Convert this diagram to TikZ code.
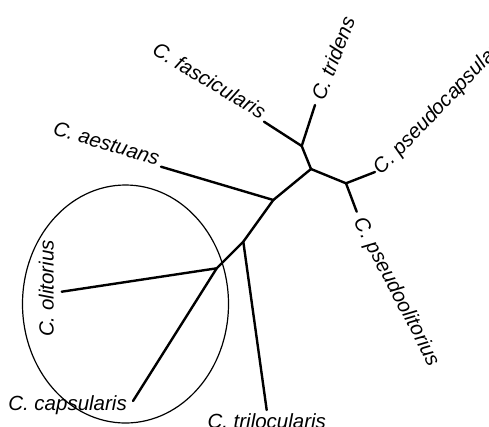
\documentclass[tikz,border=0pt]{standalone}
\usepackage{fontspec}
\setmainfont{Liberation Sans}
\begin{document}
\begin{tikzpicture}[x=1pt,y=-1pt,
  branch/.style={line width=2.4pt,line cap=round},
  taxon/.style={inner sep=0pt,text depth=0pt,font=\fontsize{20.5}{24}\selectfont\itshape},
  hull/.style={line width=1.2pt}]
\useasboundingbox (0,0) rectangle (489,426);
\clip (0,0) rectangle (489,426);
% internal junctions
\coordinate (j1) at (273.3,200);
\coordinate (j2) at (311,169);
\coordinate (j3) at (301.7,146);
\coordinate (j4) at (346,183.3);
\coordinate (j5) at (243.3,241.7);
\coordinate (j6) at (216.7,268.3);
% tips
\coordinate (tfasc) at (264,121.7);
\coordinate (ttrid) at (315,105);
\coordinate (tpcap) at (375,172);
\coordinate (tpool) at (356.7,211.7);
\coordinate (taest) at (161,166.7);
\coordinate (ttrilo) at (266.7,410);
\coordinate (tolit) at (61.7,291.7);
\coordinate (tcaps) at (133,401);
% ellipse
\draw[hull] (125.5,304) ellipse [x radius=103, y radius=119];
% branches
\draw[branch] (j1) -- (j2);
\draw[branch] (j2) -- (j3);
\draw[branch] (j3) -- (tfasc);
\draw[branch] (j3) -- (ttrid);
\draw[branch] (j2) -- (j4);
\draw[branch] (j4) -- (tpcap);
\draw[branch] (j4) -- (tpool);
\draw[branch] (j1) -- (taest);
\draw[branch] (j1) -- (j5);
\draw[branch] (j5) -- (ttrilo);
\draw[branch] (j5) -- (j6);
\draw[branch] (j6) -- (tolit);
\draw[branch] (j6) -- (tcaps);
% labels
\node[taxon,rotate=69,anchor=west] (ltrid) at (317.1,99.4) {C. tridens};
\node[taxon,rotate=46,anchor=west] (lpcap) at (376.5,170.3) {C. pseudocapsularis};
\node[taxon,rotate=-62.4,anchor=west] (lpool) at (360.2,218.3) {C. pseudoolitorius};
\node[taxon,rotate=-31,anchor=base east] (lfasc) at (260.6,119.6) {C. fascicularis};
\node[taxon,rotate=-16.6,anchor=base east] (laest) at (157.2,165.6) {C. aestuans};
\node[taxon,rotate=90,anchor=base] (lolit) at (53.5,288.5) {C. olitorius};
\node[taxon,anchor=base east] (lcaps) at (127,410) {C. capsularis};
\node[taxon,anchor=base west] (ltrilo) at (207.3,428.3) {C. trilocularis};
\end{tikzpicture}
\end{document}
